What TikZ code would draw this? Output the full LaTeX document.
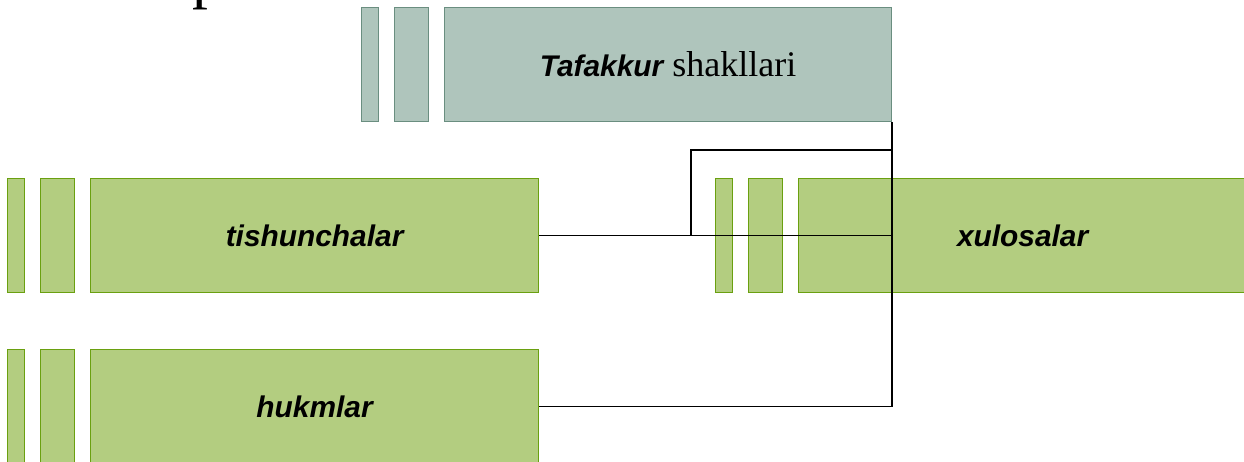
\documentclass[tikz,border=0pt]{standalone}
\usepackage{fontspec}
\setmainfont{Liberation Serif}
\newfontfamily\arialfont{Liberation Sans}
\usetikzlibrary{positioning}
\definecolor{greyfill}{HTML}{AFC5BC}
\definecolor{greyline}{HTML}{6A8E80}
\definecolor{leaffill}{HTML}{B3CD80}
\definecolor{leafline}{HTML}{6AA010}

\begin{document}
\begin{tikzpicture}[x=0.02cm, y=-0.02cm,
          topbox/.style={draw=greyline, fill=greyfill, line width=0.6pt, minimum height=2.28cm, inner sep=0pt},
          leafbox/.style={draw=leafline, fill=leaffill, line width=0.6pt, minimum height=2.28cm, inner sep=0pt,
                          font=\arialfont\bfseries\itshape\fontsize{17}{20}\selectfont},
          thinbar/.style={minimum width=0.34cm},
          midbar/.style={minimum width=0.68cm},
          widebar/.style={minimum width=8.96cm},
          conn/.style={draw=black, line width=0.75pt}]
        \useasboundingbox (0,0) rectangle (1244,462);
        \clip (0,0) rectangle (1244,462);
        % cut-off title above the picture
        \node[anchor=base west, inner sep=0pt, font=\fontsize{36}{40}\selectfont] (ttl) at (192,-3) {p};
        % root
        \node[topbox, thinbar, anchor=north west] (r1) at (361,7) {};
        \node[topbox, midbar, right=0.3cm of r1] (r2) {};
        \node[topbox, widebar, minimum width=8.94cm, right=0.3cm of r2] (root)
              {{\arialfont\bfseries\itshape\fontsize{17}{20}\selectfont Tafakkur}{\fontsize{20.5}{24}\selectfont\ shakllari}};
        % children
        \node[leafbox, thinbar, anchor=north west] (a1) at (7,178) {};
        \node[leafbox, midbar, right=0.3cm of a1] (a2) {};
        \node[leafbox, widebar, right=0.3cm of a2] (tish) {tishunchalar};
        \node[leafbox, thinbar, below=1.12cm of a1] (b1) {};
        \node[leafbox, midbar, right=0.3cm of b1] (b2) {};
        \node[leafbox, widebar, right=0.3cm of b2] (huk) {hukmlar};
        \node[leafbox, thinbar, anchor=north west] (c1) at (715,178) {};
        \node[leafbox, midbar, right=0.3cm of c1] (c2) {};
        \node[leafbox, widebar, right=0.3cm of c2] (xul) {xulosalar};
        % connectors
        \coordinate (elb) at (691,150);
        \draw[conn] (root.south east) |- (tish.east);
        \draw[conn] (root.south east) |- (huk.east);
        \draw[conn] (root.south east) |- (elb) |- (xul.west);
      \end{tikzpicture}
\end{document}
